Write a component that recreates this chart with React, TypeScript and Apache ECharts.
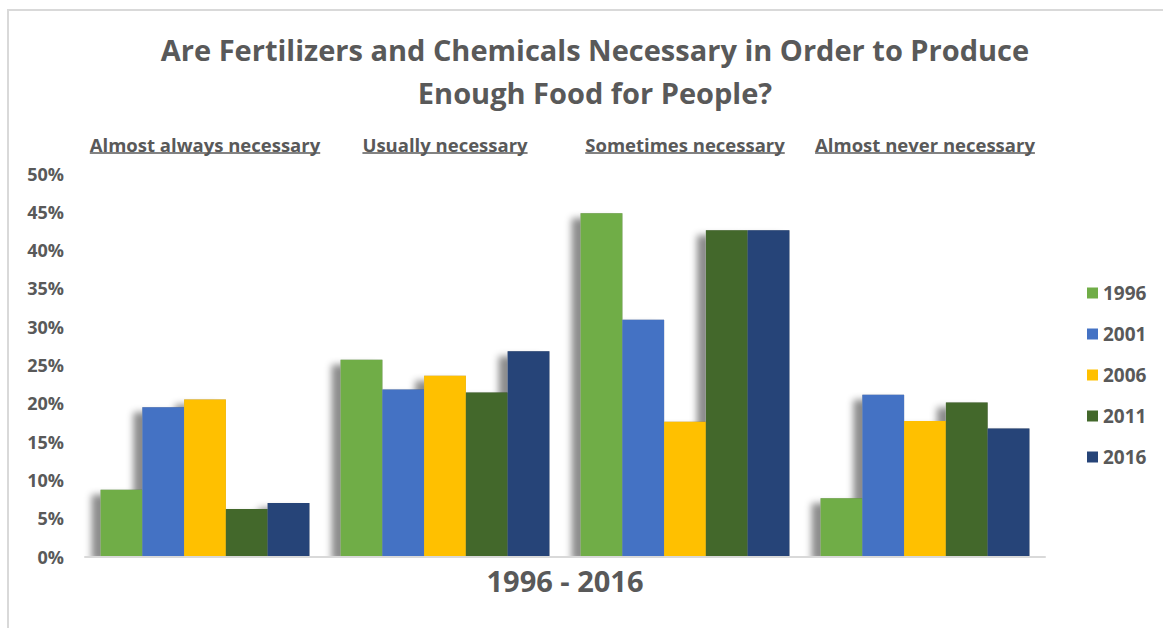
import { useEffect, useRef } from "react";
import * as echarts from "echarts";

// Survey answers, percent of respondents per year
const categories = [
  "Almost always necessary",
  "Usually necessary",
  "Sometimes necessary",
  "Almost never necessary",
];
const years = ["1996", "2001", "2006", "2011", "2016"];
const v1996 = [8.7, 25.7, 44.8, 7.6];
const v2001 = [19.5, 21.8, 30.9, 21.1];
const v2006 = [20.5, 23.6, 17.6, 17.7];
const v2011 = [6.2, 21.4, 42.6, 20.1];
const v2016 = [7.0, 26.8, 42.6, 16.7];
const yMax = 50;
const yStep = 5;

const seriesValues = [v1996, v2001, v2006, v2011, v2016];
const colors = ["#70ad47", "#4472c4", "#ffc000", "#43682b", "#264478"];

const FONT = "'Open Sans', Lato, sans-serif";
const TEXT = "#595959";
const CAT_FONT_SIZE = 18.5;

export default function App() {
  const ref = useRef<HTMLDivElement>(null);

  useEffect(() => {
    if (!ref.current) return;
    const chart = echarts.init(ref.current, null, { renderer: "svg" });

    const gridTop = 173.5;
    const gridBottom = 71.5;
    const gridLeft = 85;
    const gridRight = 118;
    const labelMargin = 19;

    // Shadow layer drawn beneath the bars, on an overlaid hidden axis
    const shadowSeries = years.map((y, i) => ({
      name: y + " shadow",
      type: "bar",
      xAxisIndex: 1,
      data: seriesValues[i],
      barGap: "0%",
      barCategoryGap: "13%",
      silent: true,
      z: 1,
      itemStyle: {
        color: "#9a9a9a",
        shadowBlur: 7,
        shadowColor: "rgba(0,0,0,0.45)",
        shadowOffsetX: -9,
        shadowOffsetY: 5,
      },
    }));

    const mainSeries = years.map((y, i) => ({
      name: y,
      type: "bar",
      xAxisIndex: 0,
      data: seriesValues[i],
      barGap: "0%",
      barCategoryGap: "13%",
      z: 3,
      itemStyle: { color: colors[i] },
    }));

    chart.setOption({
      animation: false,
      backgroundColor: "#ffffff",
      color: colors,
      title: {
        text: "Are Fertilizers and Chemicals Necessary in Order to Produce\nEnough Food for People?",
        left: 590,
        textAlign: "center",
        top: 23,
        textStyle: {
          fontFamily: FONT,
          fontSize: 29,
          fontWeight: "bold",
          color: TEXT,
          lineHeight: 43,
        },
      },
      legend: {
        orient: "vertical",
        left: 1082,
        top: 278,
        itemWidth: 11,
        itemHeight: 11,
        itemGap: 21,
        icon: "rect",
        data: years,
        textStyle: {
          fontFamily: FONT,
          fontSize: 19,
          fontWeight: "bold",
          color: TEXT,
          lineHeight: 20,
        },
      },
      grid: { left: gridLeft, right: gridRight, top: gridTop, bottom: gridBottom },
      xAxis: [
        {
          type: "category",
          data: categories,
          position: "top",
          axisLine: { show: false, onZero: false },
          axisTick: { show: false },
          axisLabel: {
            margin: labelMargin,
            fontFamily: FONT,
            fontSize: CAT_FONT_SIZE,
            fontWeight: "bold",
            color: TEXT,
            lineHeight: 20,
            interval: 0,
          },
        },
        {
          type: "category",
          data: categories,
          position: "bottom",
          z: 10,
          axisLine: { show: true, onZero: false, lineStyle: { color: "#d9d9d9", width: 2 } },
          axisTick: { show: false },
          axisLabel: { show: false },
          name: "1996 - 2016",
          nameLocation: "middle",
          nameGap: 9,
          nameTextStyle: {
            fontFamily: FONT,
            fontSize: 29,
            fontWeight: "bold",
            color: TEXT,
          },
        },
      ],
      yAxis: {
        type: "value",
        min: 0,
        max: yMax,
        interval: yStep,
        z: 10,
        splitLine: { show: false },
        axisLine: { show: false },
        axisTick: { show: false },
        axisLabel: {
          formatter: "{value}%",
          margin: 21,
          fontFamily: FONT,
          fontSize: 18,
          fontWeight: "bold",
          color: TEXT,
        },
      },
      series: [...shadowSeries, ...mainSeries],
    });

    // Underline the category labels, frame the chart area and keep the
    // bar shadows from bleeding below the baseline
    const canvas = document.createElement("canvas");
    const ctx = canvas.getContext("2d");
    const underlines: any[] = [];
    if (ctx) {
      ctx.font = `bold ${CAT_FONT_SIZE}px ${FONT}`;
      const uy = gridTop - labelMargin - 1.5;
      categories.forEach((c) => {
        const cx = chart.convertToPixel({ xAxisIndex: 0 }, c) as number;
        const w = ctx.measureText(c).width;
        underlines.push({
          type: "line",
          shape: { x1: cx - w / 2, y1: uy, x2: cx + w / 2, y2: uy },
          style: { stroke: TEXT, lineWidth: 1.5 },
          silent: true,
        });
      });
    }
    const baseY = chart.getHeight() - gridBottom;
    chart.setOption({
      graphic: [
        {
          type: "rect",
          shape: { x: 8, y: 10, width: 1400, height: 800 },
          style: { fill: "none", stroke: "#d9d9d9", lineWidth: 2 },
          silent: true,
          z: -1,
        },
        {
          type: "rect",
          shape: { x: gridLeft - 20, y: baseY, width: chart.getWidth() - gridRight - gridLeft + 40, height: 16 },
          style: { fill: "#ffffff" },
          silent: true,
          z: 5,
        },
        ...underlines,
      ],
    });

    return () => chart.dispose();
  }, []);

  return (
    <div
      ref={ref}
      style={{ position: "absolute", left: 0, top: 0, width: 1163, height: 628 }}
    />
  );
}
